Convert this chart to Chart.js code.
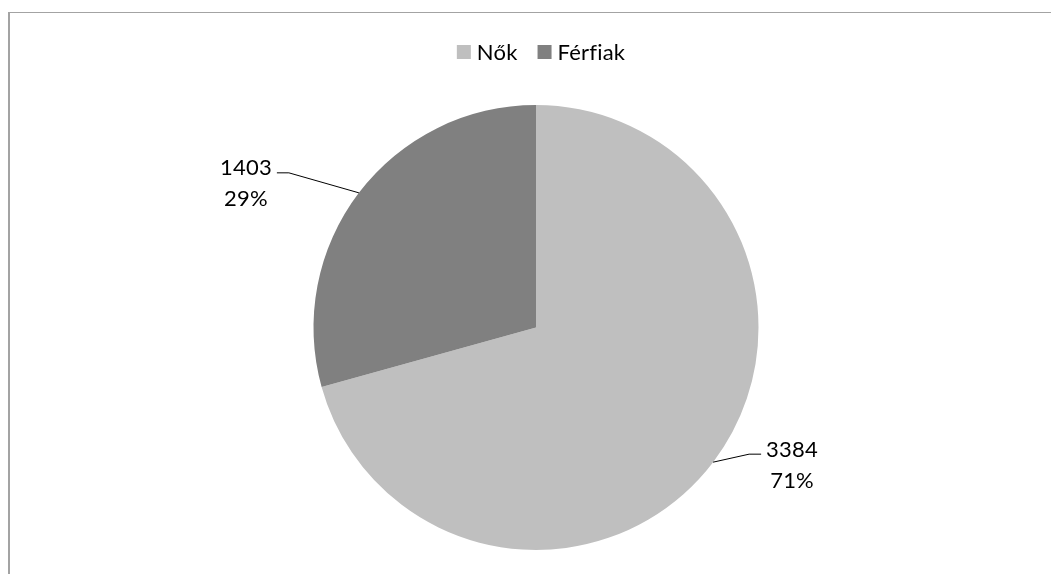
<!DOCTYPE html>
<html>
<head>
<meta charset="utf-8">
<script src="https://cdn.jsdelivr.net/npm/chart.js@4.4.1/dist/chart.umd.min.js"></script>
<style>
  html, body { margin: 0; padding: 0; background: #ffffff; }
  #wrap { position: relative; width: 1051px; height: 574px; overflow: hidden; }
  #frame { position: absolute; left: 8px; top: 12px; width: 1100px; height: 700px;
           border-left: 2px solid #a3a3a3; border-top: 1px solid #a3a3a3; pointer-events: none; }
  canvas { position: absolute; left: 0; top: 0; }
</style>
</head>
<body>
<div id="wrap">
  <canvas id="c" width="1051" height="574"></canvas>
  <div id="frame"></div>
</div>
<script>
// ---- data ----
const categories = ['Nők', 'Férfiak'];
const values = [3384, 1403];
const sliceColors = ['#bfbfbf', '#808080'];

// ---- label styling (leader-line elbow offsets from slice edge midpoint) ----
const labelOffsets = [{ dx: 36, dy: -8 }, { dx: -70, dy: -20 }];
const FONT = '22px Lato';

const total = values.reduce((a, b) => a + b, 0);

function setFont(ctx) {
  ctx.font = FONT;
  if ('letterSpacing' in ctx) ctx.letterSpacing = '0.2px'; // avoid "fi" ligature
  if ('fontVariantLigatures' in ctx) ctx.fontVariantLigatures = 'none';
}

const labelPlugin = {
  id: 'pieLabels',
  afterDatasetsDraw(chart) {
    const ctx = chart.ctx;
    const meta = chart.getDatasetMeta(0);
    ctx.save();
    setFont(ctx);
    ctx.fillStyle = '#000000';
    ctx.strokeStyle = '#000000';
    ctx.lineWidth = 1;
    meta.data.forEach((arc, i) => {
      const p = arc.getProps(['x', 'y', 'startAngle', 'endAngle', 'outerRadius'], true);
      const mid = (p.startAngle + p.endAngle) / 2;
      const ax = p.x + Math.cos(mid) * p.outerRadius;
      const ay = p.y + Math.sin(mid) * p.outerRadius;
      const off = labelOffsets[i];
      const ex = ax + off.dx, ey = ay + off.dy;
      const side = off.dx < 0 ? -1 : 1;
      const lx = ex + side * 12;
      ctx.beginPath();
      ctx.moveTo(ax, ay);
      ctx.lineTo(ex, ey);
      ctx.lineTo(lx, ey);
      ctx.stroke();
      const lines = [String(values[i]), Math.round(values[i] / total * 100) + '%'];
      const w = Math.max(...lines.map(t => ctx.measureText(t).width));
      const cx = side < 0 ? (lx - 5 - w / 2) : (lx + 5 + w / 2);
      ctx.textAlign = 'center';
      ctx.textBaseline = 'alphabetic';
      lines.forEach((t, k) => ctx.fillText(t, cx, ey + 2.5 + k * 31));
    });
    ctx.restore();
  }
};

const legendPlugin = {
  id: 'topLegend',
  afterDraw(chart) {
    const ctx = chart.ctx;
    const area = chart.chartArea;
    const centerX = (area.left + area.right) / 2 + 5;
    const baseY = area.top - 45;
    const box = 14, gap = 6, itemGap = 20;
    ctx.save();
    setFont(ctx);
    const widths = categories.map(t => ctx.measureText(t).width);
    let totalW = 0;
    widths.forEach((w, i) => { totalW += box + gap + w + (i < widths.length - 1 ? itemGap : 0); });
    let x = centerX - totalW / 2;
    categories.forEach((t, i) => {
      ctx.fillStyle = sliceColors[i];
      ctx.fillRect(x, baseY - 15, box, box);
      ctx.fillStyle = '#000000';
      ctx.textAlign = 'left';
      ctx.textBaseline = 'alphabetic';
      ctx.fillText(t, x + box + gap, baseY);
      x += box + gap + widths[i] + itemGap;
    });
    ctx.restore();
  }
};

new Chart(document.getElementById('c'), {
  type: 'pie',
  data: {
    labels: categories,
    datasets: [{
      data: values,
      backgroundColor: sliceColors,
      borderWidth: 0
    }]
  },
  options: {
    responsive: false,
    animation: false,
    layout: { padding: { top: 105, bottom: 24, left: 21, right: 0 } },
    plugins: {
      legend: { display: false },
      tooltip: { enabled: false }
    }
  },
  plugins: [labelPlugin, legendPlugin]
});
</script>
</body>
</html>
